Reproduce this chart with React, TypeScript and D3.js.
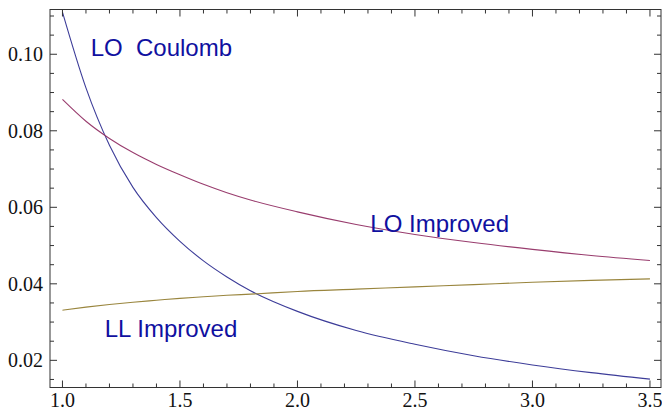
import React, { useEffect, useRef } from "react";
import * as d3 from "d3";

// values
const xs = [1.0, 1.1, 1.2, 1.3, 1.4, 1.5, 1.6, 1.7, 1.8, 2.0, 2.25, 2.5, 2.75, 3.0, 3.25, 3.5];
const loCoulomb = [0.111, 0.0912, 0.0762, 0.0652, 0.0573, 0.0511, 0.046, 0.0418, 0.0382, 0.0328, 0.0278, 0.0242, 0.0212, 0.0188, 0.0168, 0.0151];
const loImproved = [0.0882, 0.0825, 0.078, 0.0743, 0.0712, 0.0685, 0.066, 0.0638, 0.0619, 0.0588, 0.0555, 0.0529, 0.0508, 0.049, 0.0474, 0.0461];
const llImproved = [0.0331, 0.0339, 0.0346, 0.0352, 0.0357, 0.0362, 0.0366, 0.037, 0.0373, 0.038, 0.0386, 0.0392, 0.0398, 0.0404, 0.0409, 0.0413];

const xMajor = [1.0, 1.5, 2.0, 2.5, 3.0, 3.5];
const yMajor = [0.02, 0.04, 0.06, 0.08, 0.1];

const series = [
  { name: "LO Coulomb", values: loCoulomb, color: "#3d3d99" },
  { name: "LO Improved", values: loImproved, color: "#993d6e" },
  { name: "LL Improved", values: llImproved, color: "#99853d" },
];

const labels = [
  { text: "LO\u00a0 Coulomb", x: 1.12, y: 0.0995 },
  { text: "LO Improved", x: 2.31, y: 0.0535 },
  { text: "LL Improved", x: 1.18, y: 0.0262 },
];

const App = () => {
  const svgRef = useRef<SVGSVGElement>(null);

  useEffect(() => {
    const svg = d3.select(svgRef.current);
    svg.selectAll("*").remove();

    const frame = { left: 50, right: 661, top: 9.5, bottom: 387.5 };

    const x = d3.scaleLinear().domain([0.947, 3.547]).range([frame.left, frame.right]);
    const y = d3.scaleLinear().domain([0.0129, 0.1117]).range([frame.bottom, frame.top]);

    const xMinor = d3.range(10, 36).map((d) => d / 10).filter((d) => !xMajor.some((m) => Math.abs(m - d) < 1e-9));
    const yMinor = d3.range(3, 23).map((d) => d * 0.005).filter((d) => !yMajor.some((m) => Math.abs(m - d) < 1e-9));

    // clip for curves
    svg
      .append("clipPath")
      .attr("id", "plotclip")
      .append("rect")
      .attr("x", frame.left)
      .attr("y", frame.top)
      .attr("width", frame.right - frame.left)
      .attr("height", frame.bottom - frame.top);

    const line = d3
      .line<number>()
      .x((_, i) => x(xs[i]))
      .y((d) => y(d))
      .curve(d3.curveMonotoneX);

    const curves = svg.append("g").attr("clip-path", "url(#plotclip)");
    series.forEach((s) => {
      curves
        .append("path")
        .attr("d", line(s.values))
        .attr("fill", "none")
        .attr("stroke", s.color)
        .attr("stroke-width", 1.1);
    });

    // frame
    const axisColor = "#333";
    svg
      .append("rect")
      .attr("x", frame.left)
      .attr("y", frame.top)
      .attr("width", frame.right - frame.left)
      .attr("height", frame.bottom - frame.top)
      .attr("fill", "none")
      .attr("stroke", axisColor)
      .attr("stroke-width", 1);

    const ticks = svg.append("g").attr("stroke", axisColor).attr("stroke-width", 1);
    const major = 7;
    const minor = 4;

    xMajor.forEach((v) => {
      ticks.append("line").attr("x1", x(v)).attr("x2", x(v)).attr("y1", frame.bottom).attr("y2", frame.bottom - major);
      ticks.append("line").attr("x1", x(v)).attr("x2", x(v)).attr("y1", frame.top).attr("y2", frame.top + major);
    });
    xMinor.forEach((v) => {
      ticks.append("line").attr("x1", x(v)).attr("x2", x(v)).attr("y1", frame.bottom).attr("y2", frame.bottom - minor);
      ticks.append("line").attr("x1", x(v)).attr("x2", x(v)).attr("y1", frame.top).attr("y2", frame.top + minor);
    });
    yMajor.forEach((v) => {
      ticks.append("line").attr("x1", frame.left).attr("x2", frame.left + major).attr("y1", y(v)).attr("y2", y(v));
      ticks.append("line").attr("x1", frame.right).attr("x2", frame.right - major).attr("y1", y(v)).attr("y2", y(v));
    });
    yMinor.forEach((v) => {
      ticks.append("line").attr("x1", frame.left).attr("x2", frame.left + minor).attr("y1", y(v)).attr("y2", y(v));
      ticks.append("line").attr("x1", frame.right).attr("x2", frame.right - minor).attr("y1", y(v)).attr("y2", y(v));
    });

    // tick labels
    const tickFont = "'Liberation Serif', 'Times New Roman', serif";
    svg
      .append("g")
      .selectAll("text")
      .data(xMajor)
      .join("text")
      .attr("x", (d) => x(d))
      .attr("y", 407)
      .attr("text-anchor", "middle")
      .attr("font-family", tickFont)
      .attr("font-size", 20)
      .attr("fill", "#111")
      .text((d) => d.toFixed(1));

    svg
      .append("g")
      .selectAll("text")
      .data(yMajor)
      .join("text")
      .attr("x", frame.left - 7)
      .attr("y", (d) => y(d))
      .attr("dy", "0.35em")
      .attr("text-anchor", "end")
      .attr("font-family", tickFont)
      .attr("font-size", 20)
      .attr("fill", "#111")
      .text((d) => d.toFixed(2));

    // curve labels
    svg
      .append("g")
      .selectAll("text")
      .data(labels)
      .join("text")
      .attr("x", (d) => x(d.x))
      .attr("y", (d) => y(d.y))
      .attr("font-family", "'Liberation Sans', Arial, sans-serif")
      .attr("font-size", 24)
      .attr("fill", "#1010a0")
      .text((d) => d.text);
  }, []);

  return (
    <svg
      ref={svgRef}
      width={662}
      height={413}
      style={{ position: "absolute", left: 0, top: 0, background: "#fff" }}
    ></svg>
  );
};

export default App;
